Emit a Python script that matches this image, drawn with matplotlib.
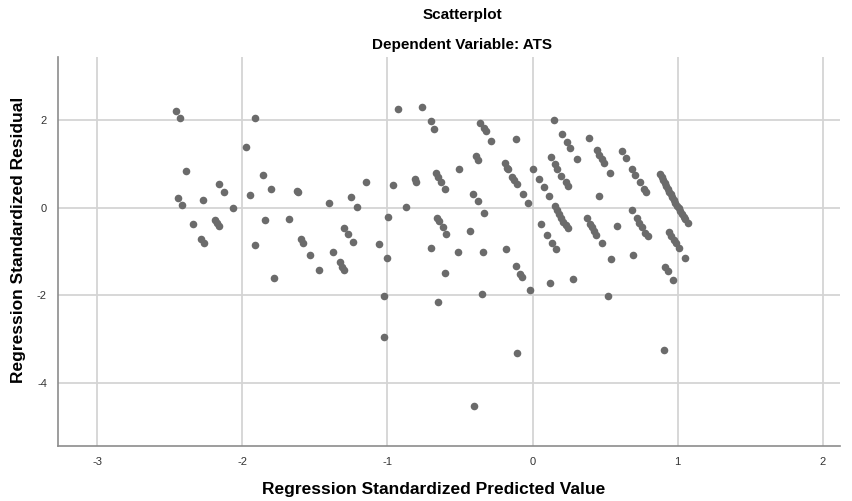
import matplotlib
matplotlib.use("Agg")
import matplotlib.pyplot as plt

plt.rcParams['font.family'] = ['Liberation Sans', 'DejaVu Sans']
plt.rcParams['axes.unicode_minus'] = False

# regression standardized predicted value (x) and residual (y)
pred = [
    -2.459, -2.428, -1.915, -1.972, -2.386, -1.855, -2.163, -2.127, -1.800, -1.625,
    -1.617, -2.446, -2.416, -2.272, -1.948, -2.062, -2.341, -2.186, -2.174, -2.161,
    -2.283, -2.267, -1.846, -1.679, -1.915, -1.593, -1.582, -1.536, -1.782,
    -0.927, -0.759, -0.703, -0.676, -1.145, -0.959, -0.812, -0.803, -0.667, -0.651,
    -0.628, -0.600, -1.400, -1.253, -1.212, -0.872, -0.998, -0.660, -0.646, -0.617,
    -0.593, -1.297, -1.272, -1.239, -1.060, -1.377, -1.327, -1.310, -1.299, -1.469,
    -1.003, -0.703, -0.603, -1.021, -0.653,
    -0.359, -0.336, -0.324, -0.283, -0.117, 0.147, 0.204, 0.234, 0.259, 0.303,
    -0.510, -0.391, -0.375, -0.191, -0.175, -0.166, -0.141, -0.127, -0.110, -0.067,
    -0.030, 0.002, 0.043, 0.078, 0.112, 0.126, 0.154, 0.170, 0.197, 0.230,
    0.241, -0.407, -0.379, -0.334, 0.154, 0.166, 0.179, 0.193, 0.211, 0.228,
    0.246, 0.055, 0.099, 0.133, 0.161, -0.430, -0.513, -0.343, -0.186, -0.117,
    -0.088, -0.076, -0.019, 0.121, 0.280, -0.345,
    0.390, 0.441, 0.459, 0.476, 0.490, 0.535, 0.614, 0.641, 0.687, 0.708,
    0.742, 0.768, 0.783, 0.459,
    0.878, 0.889, 0.899, 0.910, 0.922, 0.931, 0.943, 0.952, 0.963, 0.974,
    0.985, 0.996, 1.007, 1.018, 1.030, 1.041, 1.052, 1.073,
    0.685, 0.717, 0.733, 0.754, 0.774, 0.793, 0.579, 0.377, 0.395, 0.409,
    0.425, 0.439, 0.476, 0.538, 0.694, 0.940, 0.956, 0.972, 0.988, 1.011,
    1.052, 0.912, 0.931, 0.968, 0.519,
    -1.025, -0.106, -0.405, 0.908,
]
resid = [
    2.21, 2.05, 2.05, 1.40, 0.85, 0.755, 0.55, 0.36, 0.44, 0.39,
    0.36, 0.215, 0.055, 0.19, 0.30, -0.01, -0.38, -0.275, -0.34, -0.41,
    -0.71, -0.80, -0.275, -0.25, -0.84, -0.71, -0.80, -1.07, -1.60,
    2.26, 2.30, 1.98, 1.81, 0.60, 0.52, 0.66, 0.60, 0.80, 0.71,
    0.58, 0.42, 0.12, 0.24, 0.02, 0.02, -0.22, -0.23, -0.30, -0.43,
    -0.61, -0.46, -0.60, -0.79, -0.82, -1.00, -1.24, -1.35, -1.42, -1.42,
    -1.15, -0.915, -1.49, -2.01, -2.16,
    1.95, 1.82, 1.75, 1.53, 1.57, 2.01, 1.68, 1.51, 1.38, 1.11,
    0.89, 1.18, 1.09, 1.02, 0.92, 0.88, 0.70, 0.63, 0.55, 0.31,
    0.10, 0.89, 0.66, 0.47, 0.27, 1.17, 1.00, 0.89, 0.73, 0.58,
    0.49, 0.31, 0.16, -0.11, 0.04, -0.05, -0.14, -0.24, -0.33, -0.39,
    -0.46, -0.37, -0.62, -0.81, -0.95, -0.53, -1.02, -1.02, -0.945, -1.33,
    -1.52, -1.58, -1.88, -1.71, -1.63, -1.97,
    1.59, 1.32, 1.21, 1.11, 1.03, 0.79, 1.31, 1.15, 0.88, 0.76,
    0.59, 0.43, 0.36, 0.26,
    0.77, 0.70, 0.63, 0.57, 0.50, 0.44, 0.37, 0.31, 0.24, 0.18,
    0.12, 0.05, -0.01, -0.08, -0.14, -0.20, -0.26, -0.34,
    -0.06, -0.24, -0.34, -0.45, -0.57, -0.65, -0.42, -0.24, -0.36, -0.45,
    -0.54, -0.63, -0.80, -1.17, -1.075, -0.55, -0.65, -0.74, -0.81, -0.93,
    -1.16, -1.36, -1.45, -1.65, -2.01,
    -2.96, -3.32, -4.54, -3.26,
]
xticks = [-3, -2, -1, 0, 1, 2]
yticks = [-4, -2, 0, 2]

fig = plt.figure(figsize=(8.53, 5.01), dpi=100)
ax = fig.add_axes([0.068, 0.110, 0.917, 0.776])

ax.scatter(pred, resid, s=30, color='#6b6b6b', linewidths=0, zorder=3)

ax.set_xlim(-3.27, 2.12)
ax.set_ylim(-5.45, 3.45)
ax.set_xticks(xticks)
ax.set_yticks(yticks)
ax.grid(True, color='#d4d4d4', linewidth=1.3)
ax.set_axisbelow(True)
ax.tick_params(length=0, labelsize=8, labelcolor='#333333', pad=8)

for side in ['top', 'right']:
    ax.spines[side].set_visible(False)
for side in ['left', 'bottom']:
    ax.spines[side].set_color('#8c8c8c')
    ax.spines[side].set_linewidth(1.2)

ax.set_xlabel('Regression Standardized Predicted Value', fontsize=12.5, fontweight='bold', va='center')
ax.set_ylabel('Regression Standardized Residual', fontsize=12.5, fontweight='bold', va='center')
ax.xaxis.set_label_coords(0.48, -0.113)
ax.yaxis.set_label_coords(-0.051, 0.53)

fig.text(0.542, 0.970, 'Scatterplot', ha='center', va='center', fontsize=11, fontweight='bold')
fig.text(0.542, 0.910, 'Dependent Variable: ATS', ha='center', va='center', fontsize=11, fontweight='bold')

fig.savefig('out.png', dpi=100)
